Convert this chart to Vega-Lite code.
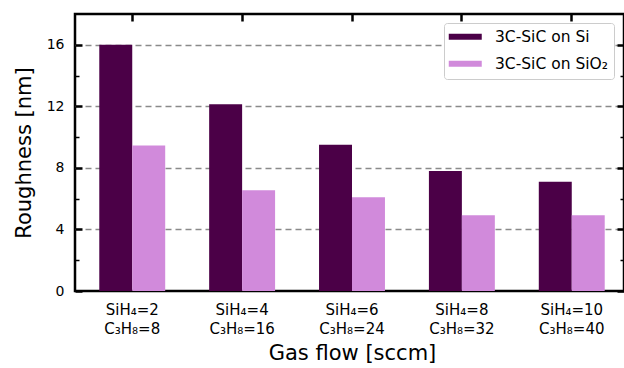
{
  "$schema": "https://vega.github.io/schema/vega-lite/v6.json",
  "width": 549,
  "height": 277,
  "autosize": "none",
  "padding": {"left": 75, "top": 14, "right": 0, "bottom": 77},
  "config": {
    "font": "DejaVu Sans",
    "view": {"stroke": "black", "strokeWidth": 2.5},
    "axis": {"labelColor": "#000000", "titleColor": "#000000", "labelFont": "DejaVu Sans", "titleFont": "DejaVu Sans", "titleFontWeight": "normal", "tickColor": "#000000"}
  },
  "data": {
    "values": [
      {"flow": "SiH₄=2|C₃H₈=8", "substrate": "3C-SiC on Si", "roughness": 16.0},
      {"flow": "SiH₄=2|C₃H₈=8", "substrate": "3C-SiC on SiO₂", "roughness": 9.45},
      {"flow": "SiH₄=4|C₃H₈=16", "substrate": "3C-SiC on Si", "roughness": 12.13},
      {"flow": "SiH₄=4|C₃H₈=16", "substrate": "3C-SiC on SiO₂", "roughness": 6.55},
      {"flow": "SiH₄=6|C₃H₈=24", "substrate": "3C-SiC on Si", "roughness": 9.51},
      {"flow": "SiH₄=6|C₃H₈=24", "substrate": "3C-SiC on SiO₂", "roughness": 6.09},
      {"flow": "SiH₄=8|C₃H₈=32", "substrate": "3C-SiC on Si", "roughness": 7.8},
      {"flow": "SiH₄=8|C₃H₈=32", "substrate": "3C-SiC on SiO₂", "roughness": 4.92},
      {"flow": "SiH₄=10|C₃H₈=40", "substrate": "3C-SiC on Si", "roughness": 7.1},
      {"flow": "SiH₄=10|C₃H₈=40", "substrate": "3C-SiC on SiO₂", "roughness": 4.92}
    ]
  },
  "layer": [
    {
      "mark": {"type": "bar"},
      "encoding": {
        "x": {
          "field": "flow", "type": "nominal", "sort": null,
          "scale": {"range": [0, 554], "paddingInner": 0.4, "paddingOuter": 0.221},
          "axis": {
            "orient": "bottom", "title": "Gas flow [sccm]", "titleFontSize": 21, "titlePadding": 6,
            "labelExpr": "split(datum.label, '|')", "labelAngle": 0, "labelFontSize": 15,
            "labelLineHeight": 19, "labelPadding": 11, "ticks": false, "domain": false, "grid": false
          }
        },
        "xOffset": {"field": "substrate", "type": "nominal", "sort": null},
        "y": {
          "field": "roughness", "type": "quantitative",
          "scale": {"domain": [0, 18], "nice": false},
          "axis": {
            "orient": "left", "title": "Roughness [nm]", "titleFontSize": 21, "titlePadding": 12,
            "values": [0, 2, 4, 6, 8, 10, 12, 14, 16],
            "labelExpr": "datum.value % 4 == 0 ? datum.label : ''",
            "labelFontSize": 14, "labelPadding": 18, "domain": false,
            "tickSize": {"condition": {"test": "datum.value % 4 == 0", "value": -7}, "value": -4},
            "tickWidth": {"condition": {"test": "datum.value % 4 == 0", "value": 2.5}, "value": 1.5},
            "grid": true, "gridColor": "#8a8a8a", "gridWidth": 1.5, "gridDash": [6, 4],
            "gridOpacity": {"condition": {"test": "datum.value % 4 == 0 && datum.value > 0", "value": 1}, "value": 0}
          }
        },
        "color": {
          "field": "substrate", "type": "nominal", "sort": null,
          "scale": {"domain": ["3C-SiC on Si", "3C-SiC on SiO₂"], "range": ["#4b0047", "#d18adb"]},
          "legend": {
            "title": null, "orient": "none", "legendX": 369, "legendY": 9,
            "symbolType": "M-2.75,-0.5H2.75V0.5H-2.75Z", "symbolSize": 144, "symbolStrokeWidth": 0,
            "symbolOffset": 7.5,
            "labelFontSize": 15.5, "labelColor": "#000000", "labelOffset": 22, "rowPadding": 10,
            "padding": 6, "fillColor": "white", "strokeColor": "#cccccc", "cornerRadius": 3
          }
        }
      }
    },
    {
      "mark": {"type": "bar", "opacity": 0},
      "encoding": {
        "x": {
          "field": "flow", "type": "nominal", "sort": null,
          "axis": {"orient": "top", "title": null, "labels": false, "domain": false, "grid": false, "tickSize": -7, "tickWidth": 2.5}
        },
        "y": {
          "field": "roughness", "type": "quantitative",
          "scale": {"domain": [0, 18], "nice": false},
          "axis": {
            "orient": "right", "title": null, "labels": false, "domain": false, "grid": false,
            "values": [0, 2, 4, 6, 8, 10, 12, 14, 16],
            "tickSize": {"condition": {"test": "datum.value % 4 == 0", "value": -7}, "value": -4},
            "tickWidth": {"condition": {"test": "datum.value % 4 == 0", "value": 2.5}, "value": 1.5}
          }
        }
      }
    }
  ],
  "resolve": {"scale": {"y": "independent"}, "axis": {"x": "independent", "y": "independent"}}
}
